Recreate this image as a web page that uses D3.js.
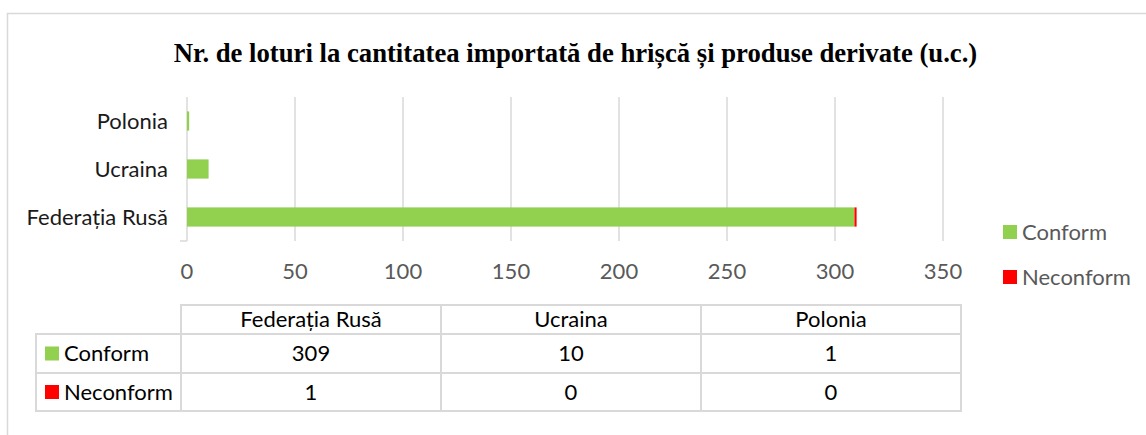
<!DOCTYPE html>
<html>
<head>
<meta charset="utf-8">
<script src="https://cdn.jsdelivr.net/npm/d3@7"></script>
<style>
  body { margin: 0; background: #fff; }
  svg { display: block; }
</style>
</head>
<body>
<svg id="chart"></svg>
<script>
// data
const categories = ["Federația Rusă", "Ucraina", "Polonia"];
const conform = [309, 10, 1];
const neconform = [1, 0, 0];
const seriesNames = ["Conform", "Neconform"];
const seriesColors = ["#92d050", "#ff0000"];
const tickValues = [0, 50, 100, 150, 200, 250, 300, 350];
const title = "Nr. de loturi la cantitatea importată de hrișcă și produse derivate (u.c.)";

const width = 1146, height = 435;
const sans = "Lato, 'Open Sans', sans-serif";
const fs = "22px";

const svg = d3.select("#chart")
  .attr("width", width)
  .attr("height", height);

svg.append("rect")
  .attr("width", width).attr("height", height)
  .attr("fill", "#fff");

// outer chart frame (runs off the right and bottom edges)
svg.append("rect")
  .attr("x", 7.5).attr("y", 13.5)
  .attr("width", width + 20).attr("height", height + 20)
  .attr("fill", "none")
  .attr("stroke", "#d9d9d9")
  .attr("stroke-width", 1.5);

svg.append("text")
  .attr("x", 575.5).attr("y", 62)
  .attr("text-anchor", "middle")
  .attr("font-family", "'Liberation Serif', 'Times New Roman', serif")
  .attr("font-weight", "bold")
  .attr("font-size", "26.7px")
  .attr("fill", "#000")
  .text(title);

const x = d3.scaleLinear().domain([0, 350]).range([187, 943]);
const y = d3.scaleBand()
  .domain(categories)
  .range([241, 97])
  .paddingInner(0.6)
  .paddingOuter(0.3);

// gridlines
svg.append("g")
  .selectAll("line")
  .data(tickValues.slice(1))
  .join("line")
  .attr("x1", d => x(d)).attr("x2", d => x(d))
  .attr("y1", 97).attr("y2", 241)
  .attr("stroke", "#d9d9d9")
  .attr("stroke-width", 1.5);

// category axis
svg.append("line")
  .attr("x1", x(0)).attr("x2", x(0))
  .attr("y1", 97).attr("y2", 241)
  .attr("stroke", "#d9d9d9").attr("stroke-width", 1.5);
svg.append("line")
  .attr("x1", 180).attr("x2", x(0))
  .attr("y1", 241).attr("y2", 241)
  .attr("stroke", "#d9d9d9").attr("stroke-width", 1.5);

svg.append("g")
  .selectAll("text")
  .data(categories)
  .join("text")
  .attr("x", 168)
  .attr("y", d => y(d) + y.bandwidth() / 2)
  .attr("dy", "0.35em")
  .attr("text-anchor", "end")
  .attr("font-family", sans)
  .attr("font-size", fs)
  .attr("fill", "#1a1a1a")
  .text(d => d);

// value axis labels
svg.append("g")
  .selectAll("text")
  .data(tickValues)
  .join("text")
  .attr("x", d => x(d))
  .attr("y", 279)
  .attr("text-anchor", "middle")
  .attr("font-family", sans)
  .attr("font-size", fs)
  .attr("fill", "#595959")
  .text(d => d);

// stacked bars
const rows = categories.map((c, i) => ({ cat: c, Conform: conform[i], Neconform: neconform[i] }));
const stack = d3.stack().keys(seriesNames)(rows);

svg.append("g")
  .selectAll("g")
  .data(stack)
  .join("g")
  .attr("fill", (d, i) => seriesColors[i])
  .selectAll("rect")
  .data(d => d)
  .join("rect")
  .attr("x", d => x(d[0]))
  .attr("y", d => y(d.data.cat))
  .attr("width", d => x(d[1]) - x(d[0]))
  .attr("height", y.bandwidth());

// legend
const legend = svg.append("g")
  .selectAll("g")
  .data(seriesNames)
  .join("g")
  .attr("transform", (d, i) => `translate(1003,${225 + i * 45})`);
legend.append("rect")
  .attr("width", 14).attr("height", 14)
  .attr("fill", (d, i) => seriesColors[i]);
legend.append("text")
  .attr("x", 19).attr("y", 7)
  .attr("dy", "0.35em")
  .attr("font-family", sans)
  .attr("font-size", fs)
  .attr("fill", "#595959")
  .text(d => d);

// data table
const tx = d3.scaleBand().domain(categories).range([181, 961]);
const labelLeft = 36;
const rowTops = [305, 334, 373, 411];
const tableData = [conform, neconform];
const grid = svg.append("g")
  .attr("stroke", "#d9d9d9")
  .attr("stroke-width", 2)
  .attr("fill", "none");

// header cells
grid.selectAll(".hcell")
  .data(categories)
  .join("rect")
  .attr("class", "hcell")
  .attr("x", d => tx(d)).attr("y", rowTops[0])
  .attr("width", tx.bandwidth()).attr("height", rowTops[1] - rowTops[0]);

// body cells
tableData.forEach((vals, r) => {
  grid.append("rect")
    .attr("x", labelLeft).attr("y", rowTops[r + 1])
    .attr("width", 181 - labelLeft).attr("height", rowTops[r + 2] - rowTops[r + 1]);
  grid.selectAll(".c" + r)
    .data(categories)
    .join("rect")
    .attr("class", "c" + r)
    .attr("x", d => tx(d)).attr("y", rowTops[r + 1])
    .attr("width", tx.bandwidth()).attr("height", rowTops[r + 2] - rowTops[r + 1]);
});

const ttext = svg.append("g")
  .attr("font-family", sans)
  .attr("font-size", fs)
  .attr("fill", "#000");

ttext.selectAll(".h")
  .data(categories)
  .join("text")
  .attr("class", "h")
  .attr("x", d => tx(d) + tx.bandwidth() / 2)
  .attr("y", (rowTops[0] + rowTops[1]) / 2)
  .attr("dy", "0.35em")
  .attr("text-anchor", "middle")
  .text(d => d);

tableData.forEach((vals, r) => {
  const cy = (rowTops[r + 1] + rowTops[r + 2]) / 2;
  ttext.append("rect")
    .attr("x", 45).attr("y", cy - 7)
    .attr("width", 14).attr("height", 14)
    .attr("fill", seriesColors[r]);
  ttext.append("text")
    .attr("x", 64).attr("y", cy)
    .attr("dy", "0.35em")
    .text(seriesNames[r]);
  ttext.selectAll(".v" + r)
    .data(vals)
    .join("text")
    .attr("class", "v" + r)
    .attr("x", (d, i) => tx(categories[i]) + tx.bandwidth() / 2)
    .attr("y", cy)
    .attr("dy", "0.35em")
    .attr("text-anchor", "middle")
    .text(d => d);
});
</script>
</body>
</html>
